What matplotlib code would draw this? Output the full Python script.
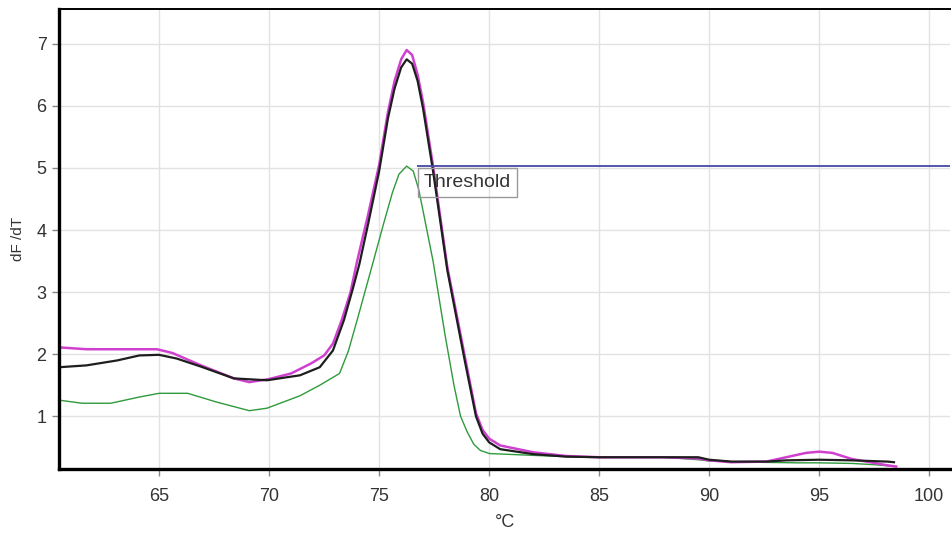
import matplotlib
matplotlib.use("Agg")
import matplotlib.pyplot as plt

# melt curve data (temperature in degC, dF/dT)
magenta_t = [60.45, 61.7, 64.9, 65.6, 66.9, 68.4, 69.1, 70.0, 71.0, 71.9, 72.5, 72.9,
             73.3, 73.7, 74.0, 74.5, 75.0, 75.4, 75.7, 76.0, 76.25, 76.5, 76.75,
             77.0, 77.45, 78.1, 78.9, 79.4, 79.7, 80.0, 80.5, 82.0, 83.5, 85.0, 87.9,
             89.5, 90.0, 91.0, 92.6, 93.5, 94.4, 95.0, 95.6, 96.5, 98.1, 98.5]
magenta_v = [2.11, 2.08, 2.08, 2.02, 1.82, 1.61, 1.55, 1.60, 1.69, 1.85, 1.98, 2.17,
             2.55, 3.00, 3.50, 4.25, 5.05, 5.90, 6.40, 6.75, 6.90, 6.82, 6.50,
             6.05, 5.03, 3.40, 1.95, 1.05, 0.78, 0.64, 0.53, 0.42, 0.36, 0.34, 0.34,
             0.32, 0.29, 0.26, 0.27, 0.34, 0.41, 0.43, 0.41, 0.31, 0.21, 0.19]

black_t = [60.45, 61.7, 63.1, 64.1, 65.0, 65.8, 66.9, 68.4, 69.9, 71.4, 72.3, 72.9,
           73.4, 73.8, 74.1, 74.5, 75.0, 75.4, 75.7, 76.0, 76.25, 76.5, 76.75, 77.0,
           77.45, 78.1, 78.9, 79.4, 79.7, 80.0, 80.5, 82.0, 83.5, 85.0, 88.0, 89.5,
           90.0, 91.0, 92.6, 93.5, 95.0, 96.5, 98.1, 98.4]
black_v = [1.79, 1.82, 1.90, 1.98, 1.99, 1.93, 1.80, 1.61, 1.58, 1.66, 1.79, 2.06,
           2.55, 3.05, 3.45, 4.10, 4.95, 5.80, 6.28, 6.62, 6.75, 6.68, 6.40, 5.95,
           4.95, 3.35, 1.88, 1.00, 0.72, 0.58, 0.47, 0.39, 0.35, 0.34, 0.34, 0.34,
           0.30, 0.27, 0.27, 0.29, 0.30, 0.29, 0.27, 0.26]

green_t = [60.45, 61.5, 62.8, 64.1, 65.0, 66.3, 67.6, 69.1, 69.9, 71.4, 72.3, 73.2,
           73.6, 74.0, 74.7, 75.2, 75.6, 75.9, 76.25, 76.55, 76.8, 77.0, 77.45, 78.0,
           78.4, 78.7, 79.0, 79.3, 79.6, 80.0, 82.0, 83.5, 85.0, 88.0, 89.5, 90.0,
           92.0, 94.0, 95.0, 96.5, 97.5, 98.2]
green_v = [1.26, 1.21, 1.21, 1.31, 1.37, 1.37, 1.23, 1.09, 1.13, 1.33, 1.50, 1.69,
           2.05, 2.55, 3.45, 4.10, 4.60, 4.90, 5.03, 4.95, 4.65, 4.30, 3.50, 2.30,
           1.50, 1.00, 0.75, 0.55, 0.45, 0.40, 0.37, 0.35, 0.34, 0.34, 0.30, 0.28,
           0.26, 0.25, 0.25, 0.24, 0.22, 0.20]

threshold = 5.03
threshold_start = 76.72
x_ticks = [65, 70, 75, 80, 85, 90, 95, 100]
y_ticks = [1, 2, 3, 4, 5, 6, 7]

plt.rcParams['font.family'] = ['Liberation Sans', 'DejaVu Sans']

fig = plt.figure(figsize=(9.52, 5.33), dpi=100)
ax = fig.add_axes([0.062, 0.120, 0.936, 0.863])

ax.set_xlim(60.45, 100.95)
ax.set_ylim(0.15, 7.56)
ax.set_xticks(x_ticks)
ax.set_yticks(y_ticks)
ax.grid(True, color='#e2e2e2', linewidth=1.0)
ax.set_axisbelow(True)

ax.plot(green_t, green_v, color='#2f9a3c', linewidth=1.0)
ax.plot(magenta_t, magenta_v, color='#d040d0', linewidth=1.8)
ax.plot(black_t, black_v, color='#1e1e1e', linewidth=1.6)

# threshold line and its label
ax.hlines(threshold, threshold_start, 100.95, color='#4848a8', linewidth=1.3)
ax.text(79.0, 4.77, 'Threshold', ha='center', va='center', fontsize=14,
        color='#333333',
        bbox=dict(boxstyle='square,pad=0.3', fc='none', ec='#999999', lw=1.0))

for side in ['left', 'bottom']:
    ax.spines[side].set_linewidth(2.4)
    ax.spines[side].set_color('black')
ax.spines['top'].set_linewidth(1.4)
ax.spines['right'].set_visible(False)

ax.tick_params(axis='both', colors='#888888', labelcolor='#333333', length=5, width=1)
ax.tick_params(axis='x', labelsize=13, pad=9)
ax.tick_params(axis='y', labelsize=13, pad=4)

ax.set_xlabel('°C', fontsize=13, color='#333333', labelpad=6)
ax.set_ylabel('dF /dT', fontsize=11, color='#333333', labelpad=8)

fig.savefig('out.png', dpi=100, facecolor='white')
